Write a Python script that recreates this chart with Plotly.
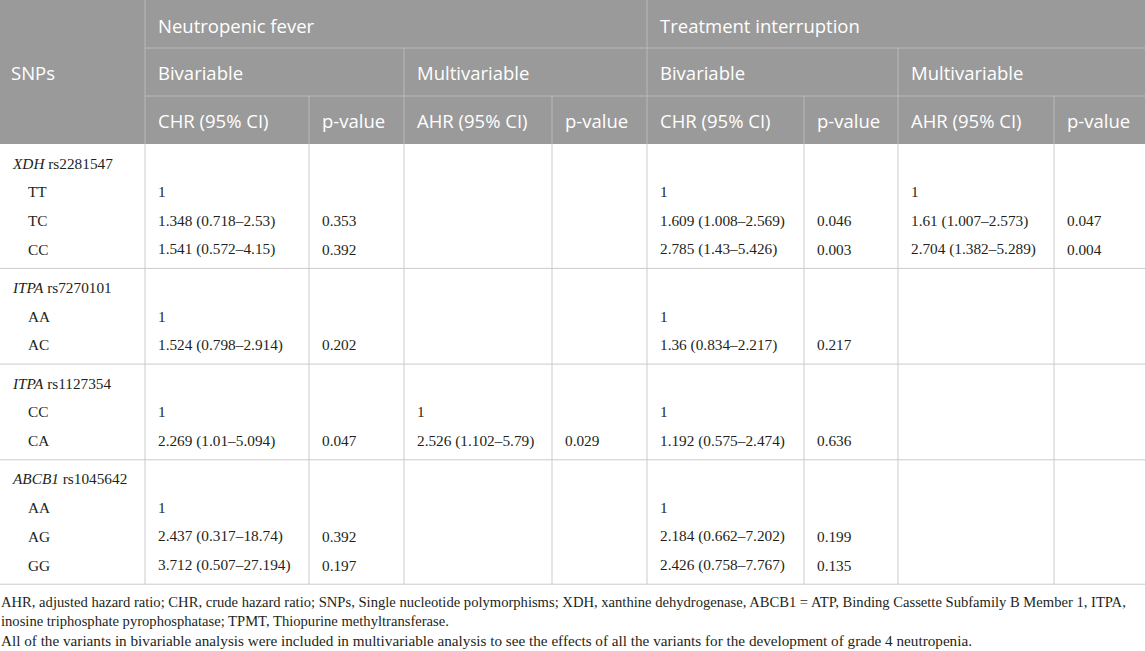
import plotly.graph_objects as go

# ---------------- data ----------------
genes = ["XDH", "ITPA", "ITPA", "ABCB1"]
snp_ids = ["rs2281547", "rs7270101", "rs1127354", "rs1045642"]
genotypes = [["TT", "TC", "CC"], ["AA", "AC"], ["CC", "CA"], ["AA", "AG", "GG"]]

nf_bi_chr = [["1", "1.348 (0.718–2.53)", "1.541 (0.572–4.15)"],
             ["1", "1.524 (0.798–2.914)"],
             ["1", "2.269 (1.01–5.094)"],
             ["1", "2.437 (0.317–18.74)", "3.712 (0.507–27.194)"]]
nf_bi_p = [["", "0.353", "0.392"], ["", "0.202"], ["", "0.047"], ["", "0.392", "0.197"]]
nf_mv_ahr = [["", "", ""], ["", ""], ["1", "2.526 (1.102–5.79)"], ["", "", ""]]
nf_mv_p = [["", "", ""], ["", ""], ["", "0.029"], ["", "", ""]]
ti_bi_chr = [["1", "1.609 (1.008–2.569)", "2.785 (1.43–5.426)"],
             ["1", "1.36 (0.834–2.217)"],
             ["1", "1.192 (0.575–2.474)"],
             ["1", "2.184 (0.662–7.202)", "2.426 (0.758–7.767)"]]
ti_bi_p = [["", "0.046", "0.003"], ["", "0.217"], ["", "0.636"], ["", "0.199", "0.135"]]
ti_mv_ahr = [["1", "1.61 (1.007–2.573)", "2.704 (1.382–5.289)"], ["", ""], ["", ""], ["", "", ""]]
ti_mv_p = [["", "0.047", "0.004"], ["", ""], ["", ""], ["", "", ""]]

outcomes = ["Neutropenic fever", "Treatment interruption"]
analyses = ["Bivariable", "Multivariable"]
sub_headers = ["CHR (95% CI)", "p-value", "AHR (95% CI)", "p-value",
               "CHR (95% CI)", "p-value", "AHR (95% CI)", "p-value"]
stub_header = "SNPs"

footnotes = [
    "AHR, adjusted hazard ratio; CHR, crude hazard ratio; SNPs, Single nucleotide polymorphisms; XDH, xanthine dehydrogenase, ABCB1 = ATP, Binding Cassette Subfamily B Member 1, ITPA,",
    "inosine triphosphate pyrophosphatase; TPMT, Thiopurine methyltransferase.",
    "All of the variants in bivariable analysis were included in multivariable analysis to see the effects of all the variants for the development of grade 4 neutropenia.",
]

value_cols = [nf_bi_chr, nf_bi_p, nf_mv_ahr, nf_mv_p, ti_bi_chr, ti_bi_p, ti_mv_ahr, ti_mv_p]

# ---------------- layout constants ----------------
W, H = 1145, 651
col_x = [0, 145, 309, 404, 552, 647, 804, 898, 1054, 1145]
hdr_y = [0, 48, 96, 144]
PITCH = 28.7
PAD = 9.6
HEADER_BG = "#9a9a9a"
HDR_LINE = "#b9b9b9"
BODY_LINE = "#cbcbcb"
TXT = "#231f20"
SANS = "Open Sans"
SERIF = "Liberation Serif"

shapes = []
ann = []


def hline(y, x0, x1, color):
    shapes.append(dict(type="line", xref="x", yref="y", x0=x0, x1=x1, y0=y, y1=y,
                       line=dict(color=color, width=1)))


def vline(x, y0, y1, color):
    shapes.append(dict(type="line", xref="x", yref="y", x0=x, x1=x, y0=y0, y1=y1,
                       line=dict(color=color, width=1)))


def text(x, y, s, family, size, color, anchor="left"):
    ann.append(dict(x=x, y=y, xref="x", yref="y", text=s, showarrow=False,
                    xanchor=anchor, yanchor="middle", borderpad=0,
                    font=dict(family=family, size=size, color=color)))


# header background
shapes.append(dict(type="rect", xref="x", yref="y", x0=0, x1=W, y0=hdr_y[0], y1=hdr_y[3],
                   fillcolor=HEADER_BG, line=dict(width=0), layer="below"))
hline(hdr_y[1], col_x[1], W, HDR_LINE)
hline(hdr_y[2], col_x[1], W, HDR_LINE)
vline(col_x[1], hdr_y[0], hdr_y[3], HDR_LINE)
vline(col_x[5], hdr_y[0], hdr_y[3], HDR_LINE)
vline(col_x[3], hdr_y[1], hdr_y[3], HDR_LINE)
vline(col_x[7], hdr_y[1], hdr_y[3], HDR_LINE)
for i in (2, 4, 6, 8):
    vline(col_x[i], hdr_y[2], hdr_y[3], HDR_LINE)

HS = 18.5
text(10, (hdr_y[0] + hdr_y[3]) / 2, stub_header, SANS, HS, "white")
for k, o in enumerate(outcomes):
    text(col_x[1 + 4 * k] + 12, (hdr_y[0] + hdr_y[1]) / 2 + 1, o, SANS, HS, "white")
    for j, a in enumerate(analyses):
        text(col_x[1 + 4 * k + 2 * j] + 12, (hdr_y[1] + hdr_y[2]) / 2, a, SANS, HS, "white")
for c, s in enumerate(sub_headers):
    text(col_x[1 + c] + 12, (hdr_y[2] + hdr_y[3]) / 2, s, SANS, HS, "white")

# body
DS = 15.3
y = hdr_y[3]
for g in range(len(genes)):
    n = len(genotypes[g]) + 1
    y_first = y + PAD / 2 + PITCH / 2
    text(11, y_first, "<i>%s</i> %s" % (genes[g], snp_ids[g]), SERIF, DS, TXT)
    for r, gt in enumerate(genotypes[g]):
        yy = y_first + (r + 1) * PITCH
        text(27, yy, gt, SERIF, DS, TXT)
        for c, col in enumerate(value_cols):
            v = col[g][r]
            if v:
                text(col_x[1 + c] + 12, yy, v, SERIF, DS, TXT)
    y = y + n * PITCH + PAD
    hline(y, 0, W, BODY_LINE)
body_bottom = y
for i in range(1, 9):
    vline(col_x[i], hdr_y[3], body_bottom, BODY_LINE)

# footnotes
foot_y = [602, 621, 640]
foot_size = [14.6, 14.6, 15.2]
for fy, fs, s in zip(foot_y, foot_size, footnotes):
    text(0, fy, s, SERIF, fs, TXT)

fig = go.Figure()
fig.add_trace(go.Scatter(x=[0, W], y=[0, H], mode="markers", marker=dict(opacity=0),
                         hoverinfo="skip", showlegend=False))
fig.update_layout(
    width=W, height=H, margin=dict(l=0, r=0, t=0, b=0),
    paper_bgcolor="white", plot_bgcolor="white",
    xaxis=dict(range=[0, W], visible=False, fixedrange=True),
    yaxis=dict(range=[H, 0], visible=False, fixedrange=True),
    shapes=shapes, annotations=ann, showlegend=False,
)
fig.write_html("out.html", config={"displayModeBar": False},
               post_script="document.body.style.margin='0';document.body.style.overflow='hidden';")
